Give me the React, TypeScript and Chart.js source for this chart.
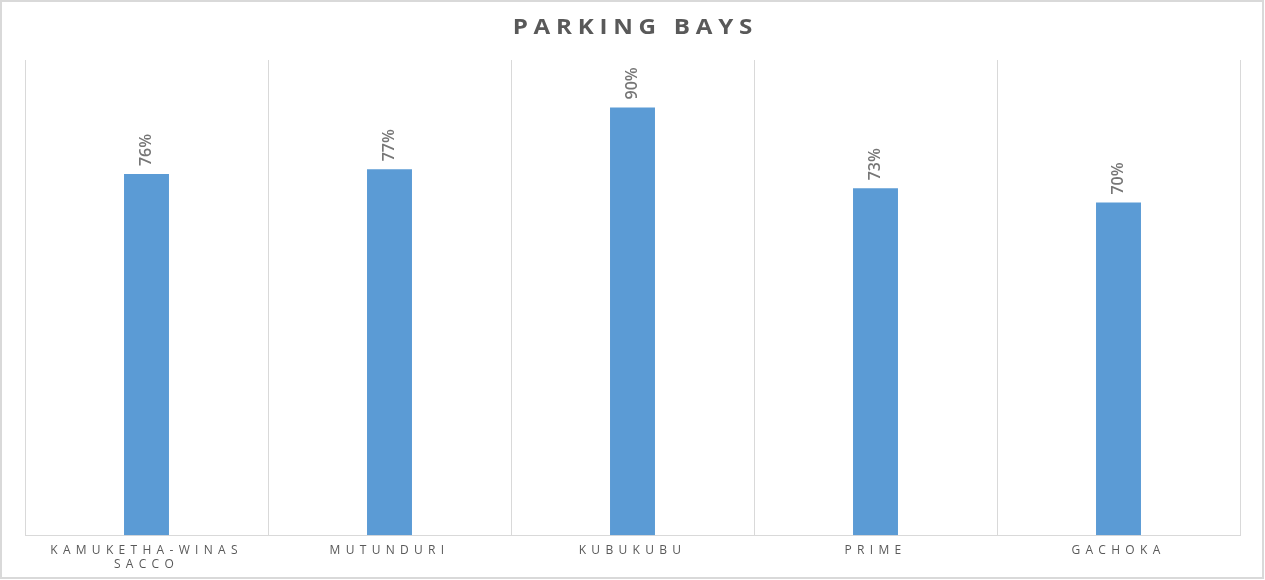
import React, { useEffect, useRef } from "react";
import { Chart, registerables } from "chart.js";

Chart.register(...registerables);

const categories: (string | string[])[] = [
  ["KAMUKETHA-WINAS", "SACCO"],
  "MUTUNDURI",
  "KUBUKUBU",
  "PRIME",
  "GACHOKA",
];
const values: number[] = [0.76, 0.77, 0.9, 0.73, 0.7];
const chartTitle = "PARKING BAYS";

const decorPlugin = {
  id: "decor",
  beforeDraw(chart: any) {
    const ctx = chart.ctx;
    ctx.save();
    ctx.strokeStyle = "#d9d9d9";
    ctx.lineWidth = 2;
    ctx.strokeRect(1, 1, chart.width - 3, chart.height - 3);
    ctx.restore();
    (ctx as any).letterSpacing = "5.3px";
  },
  beforeDatasetsDraw(chart: any) {
    (chart.ctx as any).letterSpacing = "0px";
  },
  afterDatasetsDraw(chart: any) {
    const ctx = chart.ctx;
    const meta = chart.getDatasetMeta(0);
    ctx.save();
    (ctx as any).letterSpacing = "0px";
    ctx.fillStyle = "#767676";
    ctx.font = "600 16px 'Open Sans', sans-serif";
    meta.data.forEach((bar: any, i: number) => {
      const v = values[i];
      ctx.save();
      ctx.translate(bar.x, bar.y - 8);
      ctx.rotate(-Math.PI / 2);
      ctx.textAlign = "left";
      ctx.textBaseline = "middle";
      ctx.fillText(Math.round(v * 100) + "%", 0, 0);
      ctx.restore();
    });
    ctx.restore();
  },
  afterDraw(chart: any) {
    const ctx = chart.ctx;
    ctx.save();
    (ctx as any).letterSpacing = "5px";
    ctx.fillStyle = "#595959";
    ctx.font = "bold 21px 'Open Sans', sans-serif";
    ctx.textAlign = "center";
    ctx.textBaseline = "middle";
    ctx.translate(chart.width / 2, 28);
    ctx.scale(1.15, 1);
    ctx.fillText(chartTitle, 2.5, 0);
    ctx.restore();
    (ctx as any).letterSpacing = "0px";
  },
};

export default function App() {
  const ref = useRef<HTMLCanvasElement>(null);
  useEffect(() => {
    document.body.style.margin = "0";
    const chart = new Chart(ref.current!, {
      type: "bar",
      data: {
        labels: categories as any,
        datasets: [
          {
            data: values,
            backgroundColor: "#5B9BD5",
            borderWidth: 0,
            categoryPercentage: 1,
            barPercentage: 0.185,
          },
        ],
      },
      options: {
        responsive: false,
        animation: false,
        layout: { padding: { left: 25, right: 25, top: 60, bottom: 0 } },
        plugins: {
          legend: { display: false },
          title: { display: false },
          tooltip: { enabled: false },
        },
        scales: {
          x: {
            offset: true,
            grid: {
              offset: true,
              color: "#d9d9d9",
              lineWidth: 1,
              drawTicks: false,
            },
            border: { color: "#d9d9d9", width: 1 },
            ticks: {
              color: "#595959",
              font: { family: "'Open Sans', sans-serif", size: 12 },
              padding: 8,
              maxRotation: 0,
              autoSkip: false,
            },
          },
          y: {
            display: false,
            min: 0,
            max: 1,
          },
        },
      },
      plugins: [decorPlugin],
    });
    return () => chart.destroy();
  }, []);
  return (
    <canvas
      ref={ref}
      width={1265}
      height={580}
      style={{ display: "block", width: 1265, height: 580 }}
    />
  );
}
